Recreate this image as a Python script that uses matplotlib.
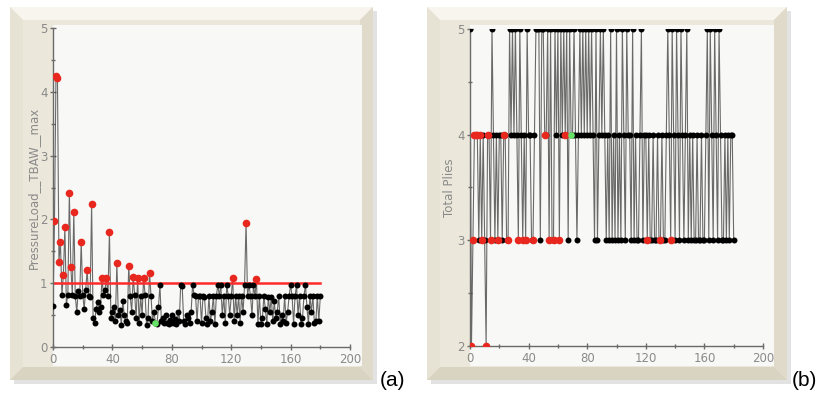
import matplotlib
matplotlib.use("Agg")
import matplotlib.pyplot as plt
from matplotlib.patches import Polygon

W, H = 824, 397

# design index 0..180
pressure = [
    0.65, 1.98, 4.24, 4.22, 1.34, 1.65, 0.82, 1.13, 1.88, 0.66,
    0.82, 2.42, 1.26, 0.82, 2.12, 0.80, 0.55, 0.88, 0.80, 1.65,
    0.82, 0.60, 0.90, 1.20, 0.80, 0.78, 2.24, 0.45, 0.38, 0.60,
    0.70, 0.55, 0.62, 1.08, 0.82, 0.90, 1.08, 0.80, 1.81, 0.45,
    0.55, 0.62, 0.40, 1.31, 0.50, 0.58, 0.35, 0.72, 0.50, 0.40,
    0.38, 1.27, 0.80, 0.55, 1.10, 0.82, 0.45, 1.08, 0.38, 0.80,
    0.50, 1.08, 0.82, 0.35, 0.45, 1.16, 0.80, 0.40, 0.55, 0.38,
    0.36, 0.62, 0.97, 0.40, 0.45, 0.38, 0.50, 0.38, 0.36, 0.42,
    0.50, 0.38, 0.44, 0.36, 0.55, 0.40, 0.97, 0.95, 0.40, 0.36,
    0.50, 0.45, 0.38, 0.55, 0.97, 0.82, 0.80, 0.40, 0.80, 0.80,
    0.38, 0.80, 0.78, 0.45, 0.36, 0.80, 0.40, 0.55, 0.80, 0.36,
    0.80, 0.97, 0.80, 0.97, 0.50, 0.80, 0.38, 0.97, 0.80, 0.50,
    0.80, 1.08, 0.40, 0.80, 0.50, 0.80, 0.38, 0.80, 0.55, 0.97,
    1.95, 0.80, 0.97, 0.80, 0.50, 0.97, 0.80, 1.06, 0.36, 0.80,
    0.36, 0.45, 0.80, 0.60, 0.36, 0.78, 0.55, 0.78, 0.40, 0.72,
    0.45, 0.55, 0.80, 0.36, 0.50, 0.40, 0.80, 0.38, 0.55, 0.80,
    0.97, 0.80, 0.36, 0.80, 0.97, 0.50, 0.80, 0.36, 0.45, 0.80,
    0.97, 0.62, 0.36, 0.80, 0.55, 0.80, 0.38, 0.40, 0.80, 0.40,
    0.80,
]

plies = [
    5, 2, 3, 4, 4, 4, 3, 4, 3, 4,
    3, 2, 4, 4, 3, 5, 4, 3, 4, 3,
    4, 4, 3, 4, 4, 3, 3, 5, 4, 5,
    4, 5, 4, 3, 5, 4, 3, 4, 3, 5,
    4, 4, 3, 3, 4, 5, 5, 5, 3, 5,
    5, 4, 4, 5, 3, 5, 3, 3, 5, 4,
    5, 3, 5, 4, 5, 4, 5, 3, 5, 4,
    4, 5, 4, 3, 4, 5, 4, 5, 4, 5,
    4, 5, 4, 5, 4, 3, 5, 3, 4, 5,
    4, 5, 4, 3, 4, 3, 5, 3, 4, 3,
    5, 3, 4, 3, 5, 4, 3, 5, 4, 4,
    3, 5, 3, 4, 3, 3, 4, 5, 3, 4,
    4, 3, 4, 3, 3, 4, 3, 3, 4, 3,
    3, 4, 3, 3, 4, 5, 4, 3, 5, 4,
    3, 5, 4, 3, 5, 4, 3, 4, 5, 3,
    4, 3, 4, 3, 3, 4, 3, 3, 4, 3,
    3, 4, 5, 3, 5, 4, 3, 5, 4, 3,
    5, 4, 3, 3, 4, 3, 4, 3, 4, 4,
    3,
]

design = list(range(len(pressure)))
limit = 1.0
best_idx = 69

x_ticks = [0, 40, 80, 120, 160, 200]


def px(x, y):
    # pixel coords (top-left origin) -> figure fraction
    return (x / W, 1 - y / H)


def poly(fig, pts, color, z=-10):
    fig.add_artist(Polygon([px(*p) for p in pts], closed=True, facecolor=color,
                           edgecolor='none', zorder=z))


def draw_frame(fig, x0, y0, x1, y1, inner, b=13):
    # drop shadow + bevelled beige frame
    poly(fig, [(x0 + 4, y0 + 4), (x1 + 4, y0 + 4), (x1 + 4, y1 + 4), (x0 + 4, y1 + 4)], '#e2e2e2', -12)
    poly(fig, [(x0, y0), (x1, y0), (x1, y1), (x0, y1)], '#ebe7da', -11)
    poly(fig, [(x0, y0), (x1, y0), (x1 - b, y0 + b), (x0 + b, y0 + b)], '#f7f5ee')
    poly(fig, [(x0, y0), (x0 + b, y0 + b), (x0 + b, y1 - b), (x0, y1)], '#e7e3d4')
    poly(fig, [(x1, y0), (x1, y1), (x1 - b, y1 - b), (x1 - b, y0 + b)], '#dfdac9')
    poly(fig, [(x0, y1), (x1, y1), (x1 - b, y1 - b), (x0 + b, y1 - b)], '#d9d4c2')
    ix0, iy0, ix1, iy1 = inner
    poly(fig, [(ix0, iy0), (ix1, iy0), (ix1, iy1), (ix0, iy1)], '#f8f8f7', -9)


def style_axes(ax):
    ax.set_facecolor('none')
    for s in ['top', 'right']:
        ax.spines[s].set_visible(False)
    for s in ['left', 'bottom']:
        ax.spines[s].set_color('#6a6a6a')
        ax.spines[s].set_linewidth(1.0)
    ax.set_xlim(0, 200)
    ax.set_xticks(x_ticks)
    ax.set_xticks(range(0, 201, 20), minor=True)
    ax.tick_params(which='both', direction='inout', colors='#6a6a6a',
                   labelcolor='#8a8a8a', labelsize=8.5, width=1)
    ax.tick_params(which='major', length=4, pad=2)
    ax.tick_params(which='minor', length=3)


def draw_series(ax, y, red_mask):
    ax.plot(design, y, color='#3a3a3a', lw=0.8, alpha=0.75, zorder=2)
    bx = [d for d, r in zip(design, red_mask) if not r]
    by = [v for v, r in zip(y, red_mask) if not r]
    rx = [d for d, r in zip(design, red_mask) if r]
    ry = [v for v, r in zip(y, red_mask) if r]
    ax.plot(bx, by, 'o', color='black', ms=4.3, mec='none', zorder=3)
    ax.plot(rx, ry, 'o', color='#e8281e', ms=5.5, mec='none', zorder=4)
    ax.plot([best_idx], [y[best_idx]], 'o', color='#66e066', ms=4.8, mec='none', zorder=5)


fig = plt.figure(figsize=(W / 100, H / 100), dpi=100)
fig.patch.set_facecolor('white')

red_mask = [v > limit for v in pressure]

# (a)
draw_frame(fig, 10, 7, 373, 380, (53, 25, 362, 366))
ax1 = fig.add_axes([53 / W, 1 - 347 / H, (350 - 53) / W, (347 - 28) / H])
style_axes(ax1)
ax1.set_ylim(0, 5)
ax1.set_yticks([0, 1, 2, 3, 4, 5])
ax1.set_yticks([0.5, 1.5, 2.5, 3.5, 4.5], minor=True)
ax1.plot([0, 180], [limit, limit], color='#ff2a2a', lw=1.8, zorder=2.5)
draw_series(ax1, pressure, red_mask)
fig.text(*px(33, 188), 'PressureLoad__TBAW__max', rotation=90, ha='center', va='center',
         fontsize=8.5, color='#8a8a8a')
fig.text(*px(380, 380), '(a)', ha='left', va='center', fontsize=15, color='black',
         family='Liberation Sans')

# (b)
draw_frame(fig, 427, 7, 787, 380, (470, 25, 774, 366))
ax2 = fig.add_axes([470 / W, 1 - 346 / H, (763 - 470) / W, (346 - 29) / H])
style_axes(ax2)
ax2.set_ylim(2, 5)
ax2.set_yticks([2, 3, 4, 5])
ax2.set_yticks([2.5, 3.5, 4.5], minor=True)
draw_series(ax2, plies, red_mask)
fig.text(*px(449, 188), 'Total Plies', rotation=90, ha='center', va='center',
         fontsize=8.5, color='#8a8a8a')
fig.text(*px(792, 380), '(b)', ha='left', va='center', fontsize=15, color='black',
         family='Liberation Sans')

for ax in (ax1, ax2):
    for lab in ax.get_xticklabels() + ax.get_yticklabels():
        lab.set_clip_on(False)

fig.savefig('out.png', dpi=100)
